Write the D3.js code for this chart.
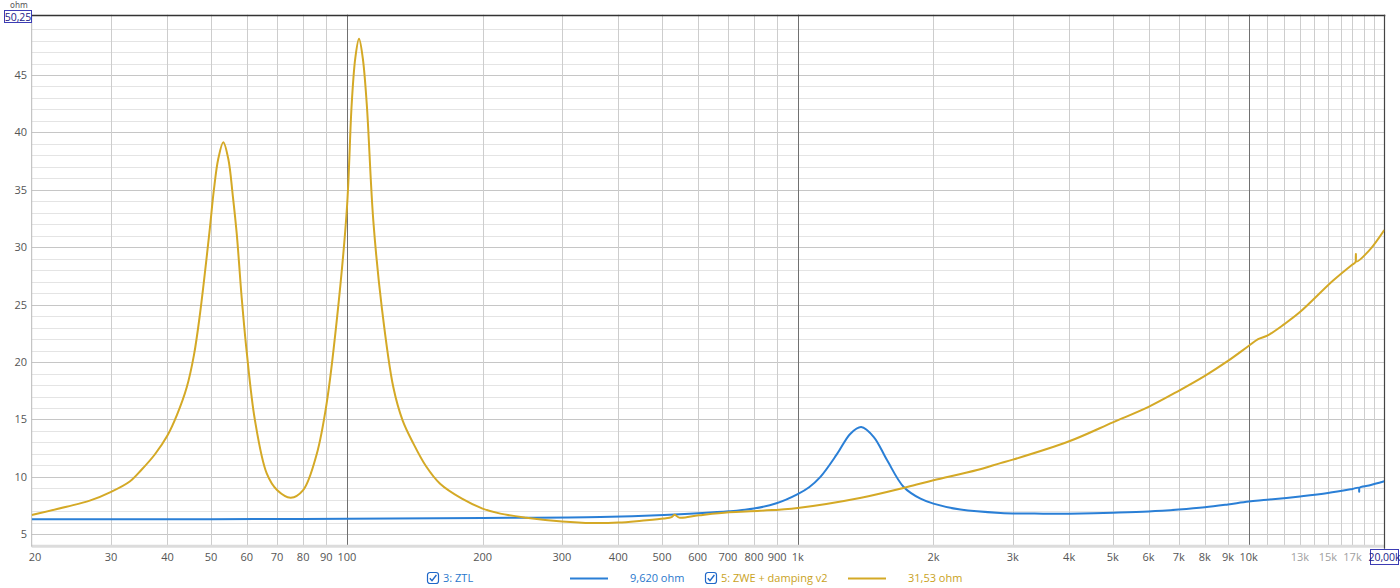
<!DOCTYPE html>
<html><head><meta charset="utf-8">
<script src="https://cdn.jsdelivr.net/npm/d3@7/dist/d3.min.js"></script>
<style>
html,body{margin:0;padding:0;background:#fff;}
svg{display:block;font-family:"Open Sans","Noto Sans",sans-serif;}
</style></head>
<body>
<svg id="chart" width="1400" height="588"></svg>
<script>
// ---- data ----
const ztlFreq = [20,50,100,200,365,505,703,799,897,1000,1060,1123,1223,1309,1383,1475,1579,1718,1872,2000,2296,2816,3500,4000,5000,6000,7000,8000,9000,10000,11000,13000,15000,17000,17560,17594,17630,18500,20000];
const ztlVal  = [6.30,6.32,6.35,6.42,6.50,6.68,7.00,7.24,7.70,8.50,9.10,10.0,12.0,13.76,14.34,13.47,11.44,9.12,8.10,7.67,7.15,6.86,6.80,6.80,6.88,6.98,7.15,7.35,7.60,7.85,8.00,8.30,8.60,8.95,9.05,8.70,9.06,9.25,9.62];

const zweFreq = [20,23.9,26.9,30,33,35,37.5,40,42,44.15,45.8,47.24,49.54,50.68,51.86,53.21,54.58,55.85,56.98,58.45,59.96,62.56,66.42,70.1,75.09,80,85.76,90.2,94.97,100,102.52,104.43,106.42,108.45,110.69,114.48,119.5,126.8,133,140.5,150,161,180,200,219,250,300,350,400,450,505,525,533,546,603,703,826,1000,1383,1748,2000,2500,2816,3000,4000,5000,6000,7000,8000,9000,10000,10500,11000,12000,13000,15400,17000,17260,17300,17340,18500,20000];
const zweVal  = [6.68,7.40,7.93,8.70,9.60,10.6,11.95,13.6,15.4,17.8,20.6,24.2,31.2,34.9,37.7,39.15,37.7,34.5,31.2,25.6,20.9,14.9,10.3,8.83,8.19,8.85,12.0,16.4,23.6,33.3,42.5,46.5,48.15,46.5,42.5,32.3,24.8,17.8,14.9,12.9,10.9,9.40,8.10,7.24,6.80,6.45,6.12,5.98,6.02,6.18,6.37,6.50,6.71,6.45,6.65,6.92,7.05,7.30,8.19,9.12,9.70,10.6,11.2,11.5,13.1,14.75,16.1,17.5,18.8,20.1,21.4,22.0,22.3,23.3,24.35,27.1,28.5,28.7,29.4,28.75,29.7,31.5];

const series = [
  {name:"3: ZTL", freq:ztlFreq, val:ztlVal, color:"#2a7fd6", text:"#2a78cc", readout:"9,620 ohm"},
  {name:"5: ZWE + damping v2", freq:zweFreq, val:zweVal, color:"#d4a926", text:"#c9a21c", readout:"31,53 ohm"}
];

const gridFreqs = [20,30,40,50,60,70,80,90,100,200,300,400,500,600,700,800,900,1000,2000,3000,4000,5000,6000,7000,8000,9000,10000,11000,12000,13000,14000,15000,16000,17000,18000,19000,20000];
const decadeFreqs = [100,1000,10000];
const xTickValues = [20,30,40,50,60,70,80,90,100,200,300,400,500,600,700,800,900,1000,2000,3000,4000,5000,6000,7000,8000,9000,10000,13000,15000,17000];
const xTickLabels = ["20","30","40","50","60","70","80","90","100","200","300","400","500","600","700","800","900","1k","2k","3k","4k","5k","6k","7k","8k","9k","10k","13k","15k","17k"];
const lightTicks = [13000,15000,17000];
const yTickValues = [5,10,15,20,25,30,35,40,45];
const yTickLabels = ["5","10","15","20","25","30","35","40","45"];
const yMinorStep = 1;
const yMin = 3.92, yMax = 50.25;
const yMaxLabel = "50,25", xMaxLabel = "20,00k", yUnit = "ohm";

// ---- layout ----
const L = 31.7, R = 1384.3, T = 14.7, B = 546.7;
const svg = d3.select("#chart");
const x = d3.scaleLog().domain([20,20000]).range([L,R]);
const y = d3.scaleLinear().domain([yMin,yMax]).range([B,T]);

const g = svg.append("g");
const minors = d3.range(4,51,yMinorStep).filter(v=>v%5!==0 && v>yMin && v<yMax);
g.selectAll(".hmin").data(minors).join("line")
  .attr("x1",L).attr("x2",R).attr("y1",d=>Math.round(y(d))+0.5).attr("y2",d=>Math.round(y(d))+0.5)
  .attr("stroke","#e4e4e4").attr("stroke-width",1);
g.selectAll(".hmaj").data(yTickValues).join("line")
  .attr("x1",L).attr("x2",R).attr("y1",d=>Math.round(y(d))+0.5).attr("y2",d=>Math.round(y(d))+0.5)
  .attr("stroke","#c6c6c6").attr("stroke-width",1);
g.selectAll(".vg").data(gridFreqs.filter(f=>!decadeFreqs.includes(f) && f!==20 && f!==20000)).join("line")
  .attr("x1",d=>Math.round(x(d))+0.5).attr("x2",d=>Math.round(x(d))+0.5).attr("y1",T).attr("y2",B)
  .attr("stroke","#cdcdcd").attr("stroke-width",1);
g.selectAll(".vd").data(decadeFreqs).join("line")
  .attr("x1",d=>Math.round(x(d))+0.5).attr("x2",d=>Math.round(x(d))+0.5).attr("y1",T).attr("y2",B)
  .attr("stroke","#707070").attr("stroke-width",1);
g.append("line").attr("x1",L).attr("x2",R).attr("y1",B-0.5).attr("y2",B-0.5).attr("stroke","#dcdcdc").attr("stroke-width",3);
g.append("line").attr("x1",L).attr("x2",L).attr("y1",T).attr("y2",B).attr("stroke","#b8b8b8").attr("stroke-width",1);
g.append("line").attr("x1",L).attr("x2",R+1).attr("y1",Math.round(T)+0.5).attr("y2",Math.round(T)+0.5).attr("stroke","#333").attr("stroke-width",1.3);
g.append("line").attr("x1",Math.round(R)+0.5).attr("x2",Math.round(R)+0.5).attr("y1",T).attr("y2",B+2).attr("stroke","#444").attr("stroke-width",1.2);

// curves
const line = d3.line().x(d=>x(d[0])).y(d=>y(d[1])).curve(d3.curveCatmullRom.alpha(0.5));
svg.append("clipPath").attr("id","clip").append("rect").attr("x",L).attr("y",T).attr("width",R-L).attr("height",B-T);
series.forEach(s=>{
  const pts = s.freq.map((f,i)=>[f,s.val[i]]);
  svg.append("path").attr("d",line(pts)).attr("fill","none").attr("stroke",s.color)
    .attr("stroke-width",2).attr("stroke-linejoin","round").attr("clip-path","url(#clip)");
});

// x tick labels
svg.selectAll(".xl").data(xTickValues).join("text")
  .attr("x",d=>x(d)).attr("y",561).attr("text-anchor",(d)=>d===20?"start":"middle")
  .attr("dx",d=>d===20?-3:0)
  .attr("font-size",11).attr("fill",d=>lightTicks.includes(d)?"#a0a0a0":"#555")
  .text((d,i)=>xTickLabels[i]);
// y tick labels
svg.selectAll(".yl").data(yTickValues).join("text")
  .attr("x",27).attr("y",d=>y(d)+4).attr("text-anchor","end")
  .attr("font-size",11).attr("fill","#555").text((d,i)=>yTickLabels[i]);

// unit + max boxes
svg.append("text").attr("x",10).attr("y",8).attr("font-size",8).attr("font-family","DejaVu Sans").attr("fill","#555").text(yUnit);
svg.append("rect").attr("x",4.5).attr("y",10.5).attr("width",27).attr("height",12).attr("fill","#fff").attr("stroke","#3c3cb4").attr("stroke-width",1);
svg.append("text").attr("x",18).attr("y",20.5).attr("text-anchor","middle").attr("font-size",10.5).attr("fill","#22228a").text(yMaxLabel);
svg.append("rect").attr("x",1370.5).attr("y",549.5).attr("width",28).attr("height",15).attr("fill","#fff").attr("stroke","#3c3cb4").attr("stroke-width",1);
svg.append("text").attr("x",1384.5).attr("y",561).attr("text-anchor","middle").attr("font-size",10.5).attr("fill","#22228a").text(xMaxLabel);

// legend
const legendX = [427,705];
series.forEach((s,i)=>{
  const lx = legendX[i], ly = 578;
  const cb = svg.append("g").attr("transform",`translate(${lx},${ly-6})`);
  cb.append("rect").attr("x",0.5).attr("y",0.5).attr("width",11).attr("height",11).attr("rx",2.5)
    .attr("fill","#fff").attr("stroke","#2068c8").attr("stroke-width",1.2);
  cb.append("path").attr("d","M2.8,6.2 L5,8.6 L9.4,3").attr("fill","none").attr("stroke","#2068c8").attr("stroke-width",1.4);
  svg.append("text").attr("x",lx+16).attr("y",ly+4).attr("font-size",11).attr("fill",s.text).text(s.name);
  svg.append("line").attr("x1",lx+143).attr("x2",lx+181).attr("y1",ly+0.5).attr("y2",ly+0.5).attr("stroke",s.color).attr("stroke-width",2);
  svg.append("text").attr("x",lx+203).attr("y",ly+4).attr("font-size",11).attr("fill",s.text).text(s.readout);
});
</script>
</body></html>
